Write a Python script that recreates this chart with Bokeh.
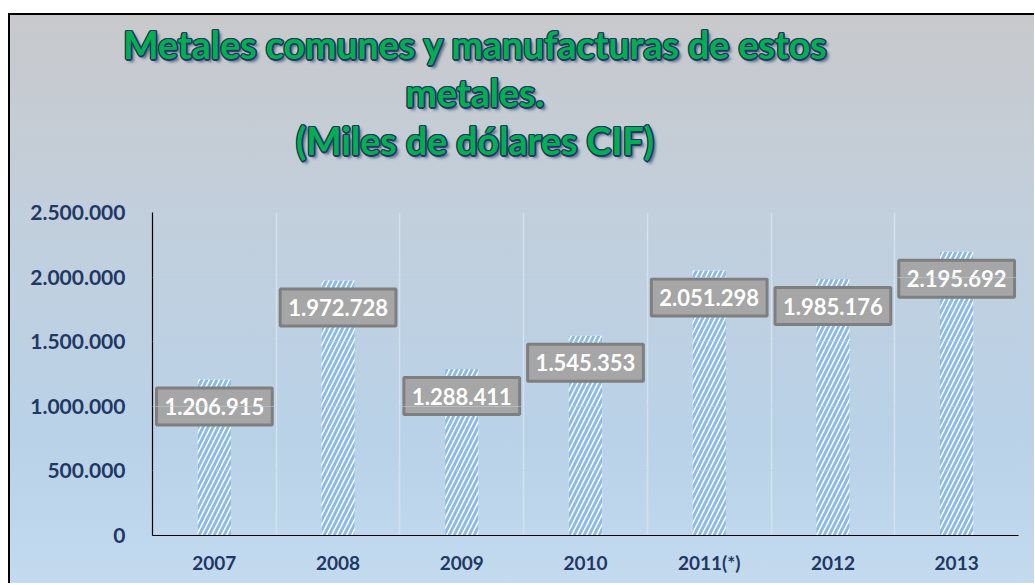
from bokeh.plotting import figure
from bokeh.layouts import column
from bokeh.models import ColumnDataSource, FixedTicker, CustomJSTickFormatter, Label, Div
from bokeh.embed import file_html
from bokeh.resources import INLINE

years = ["2007", "2008", "2009", "2010", "2011(*)", "2012", "2013"]
values = [1206915, 1972728, 1288411, 1545353, 2051298, 1985176, 2195692]
y_ticks = [0, 500000, 1000000, 1500000, 2000000, 2500000]
title_lines = ["Metales comunes y manufacturas de estos", "metales.", "(Miles de dólares CIF)"]

xs = list(range(len(years)))
label_text = [f"{v:,}".replace(",", ".") for v in values]
src = ColumnDataSource(dict(x=xs, top=values, lab=label_text))

W = 1026
TH = 187
TW = 934

# ---- title (HTML text) ----
outline = ", ".join(f"{dx}px {dy}px 0 #1f3864" for dx, dy in
                    [(-1.5, 0), (1.5, 0), (0, -1.5), (0, 1.5), (-1, -1), (1, 1), (-1, 1), (1, -1)])
shadow = outline + ", 3px 3px 3px rgba(31,56,100,0.7)"
title_html = (f"<div style=\"width:{TW}px; padding-top:8px; line-height:48px; text-align:center; "
              "font-family:Lato; font-weight:bold; font-size:37.5px; color:#00b050; "
              f"text-shadow:{shadow}; white-space:nowrap;\">"
              + "<br>".join(title_lines) + "</div>")
t = Div(text=title_html, width=TW, height=TH, margin=(0, 0, 0, 0))

# ---- main chart ----
p = figure(width=W, height=383, x_range=(-0.5, len(years) - 0.5), y_range=(0, 2500000),
           output_backend="svg", toolbar_location=None,
           min_border_left=144, min_border_right=16, min_border_top=12, min_border_bottom=48)
p.border_fill_color = None
p.background_fill_color = None
p.outline_line_color = None

p.vbar(x="x", top="top", width=0.27, source=src, fill_color="white", line_color=None,
       hatch_pattern="/", hatch_color="#8dbbe5", hatch_scale=10, hatch_weight=3)

# grids
p.xgrid.ticker = FixedTicker(ticks=[i + 0.5 for i in xs])
p.xgrid.grid_line_color = "#d3e1ee"
p.xgrid.grid_line_width = 1.5
p.ygrid.ticker = FixedTicker(ticks=y_ticks)
p.ygrid.grid_line_color = "#b9d0e6"
p.ygrid.grid_line_alpha = 0.5
p.ygrid.level = "overlay"

# axes
p.xaxis.ticker = FixedTicker(ticks=xs)
p.xaxis.major_label_overrides = {i: y for i, y in zip(xs, years)}
p.yaxis.ticker = FixedTicker(ticks=y_ticks)
p.yaxis.formatter = CustomJSTickFormatter(
    code="return Math.round(tick).toString().replace(/\\B(?=(\\d{3})+(?!\\d))/g, '.');")
for ax in (p.xaxis, p.yaxis):
    ax.axis_line_color = "black"
    ax.axis_line_width = 1.2
    ax.major_tick_line_color = None
    ax.minor_tick_line_color = None
    ax.major_label_text_color = "#1f3864"
    ax.major_label_text_font = "Lato"
    ax.major_label_text_font_style = "bold"
p.xaxis.major_label_text_font_size = "19px"
p.yaxis.major_label_text_font_size = "21px"
p.xaxis.major_label_standoff = 9
p.yaxis.major_label_standoff = 21

for xv, yv, tx in zip(xs, values, label_text):
    p.add_layout(Label(x=xv, y=yv, y_offset=-27, text=tx,
                       text_align="center", text_baseline="middle",
                       text_color="white", text_font="Lato", text_font_style="bold",
                       text_font_size="22px",
                       background_fill_color="#a6a6a6", border_line_color="#7f7f7f",
                       border_line_width=3, padding=(8, 10)))

layout = column(t, p, spacing=0, margin=(13, 0, 0, 8))
layout.styles = {
    "background": "linear-gradient(to bottom, #c8c9cb 0%, #c2cfdc 35%, #b9d2e8 75%, #c3daef 100%)",
    "box-shadow": "inset 2px 2px 0 0 #000",
}

open("out.html", "w").write(file_html(layout, INLINE))
